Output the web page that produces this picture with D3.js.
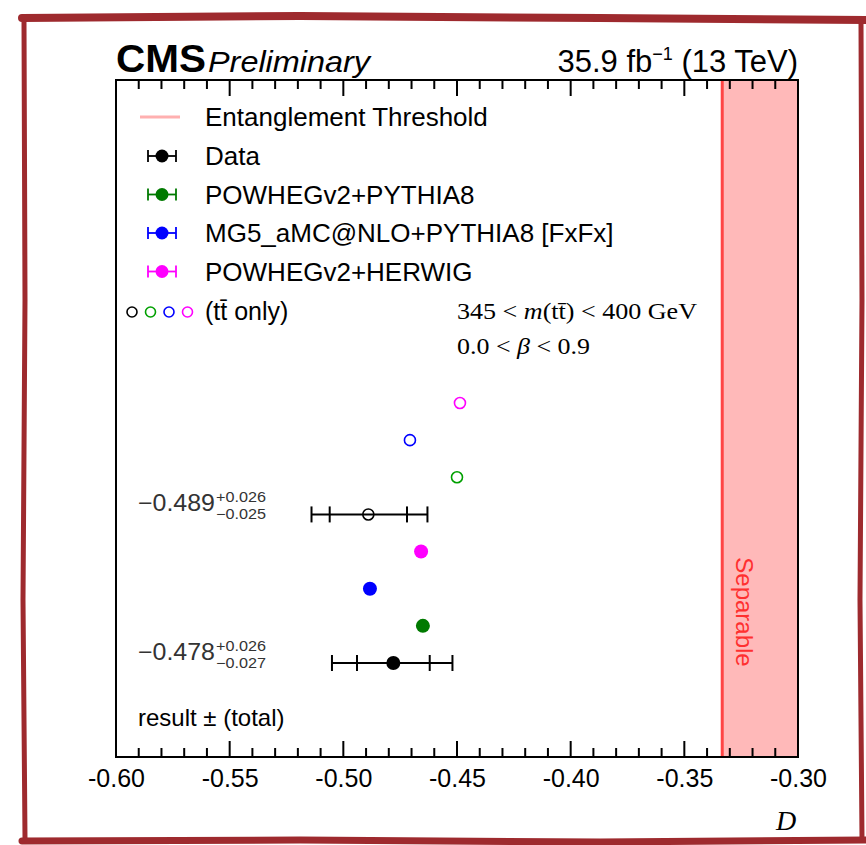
<!DOCTYPE html>
<html><head><meta charset="utf-8">
<script src="https://cdn.jsdelivr.net/npm/d3@7"></script>
<style>body{margin:0;background:#fff}svg{display:block}</style>
</head><body>
<svg id="c" width="866" height="845" xmlns="http://www.w3.org/2000/svg"></svg>
<script>
const xTicks = [-0.60, -0.55, -0.50, -0.45, -0.40, -0.35, -0.30];
const xTickLabels = ["-0.60", "-0.55", "-0.50", "-0.45", "-0.40", "-0.35", "-0.30"];
const xMinorTicks = [-0.59,-0.58,-0.57,-0.56,-0.54,-0.53,-0.52,-0.51,-0.49,-0.48,-0.47,-0.46,-0.44,-0.43,-0.42,-0.41,-0.39,-0.38,-0.37,-0.36,-0.34,-0.33,-0.32,-0.31];
const threshold = -1/3;
const legendNames = ["Data", "POWHEGv2+PYTHIA8", "MG5_aMC@NLO+PYTHIA8 [FxFx]", "POWHEGv2+HERWIG"];
const legendColors = ["#000000", "#007a00", "#0000ff", "#ff00ff"];
const openSlots = [0, 1, 2, 3];
const openValues = [-0.4487, -0.4707, -0.4500, -0.489];
const openColors = ["#ff00ff", "#0000ff", "#00a000", "#000000"];
const fullSlots = [4, 5, 6, 7];
const fullValues = [-0.4658, -0.4883, -0.4650, -0.478];
const fullColors = ["#ff00ff", "#0000ff", "#007a00", "#000000"];
const dataValues = [-0.489, -0.478];
const dataSlots = [3, 7];
const totUp = [0.026, 0.026], totDn = [0.025, 0.027];
const statUp = [0.017, 0.016], statDn = [0.017, 0.016];
const dataLabels = [["−0.489", "+0.026", "−0.025"], ["−0.478", "+0.026", "−0.027"]];

const svg = d3.select("#c");
const L = 116, R = 798, T = 80, B = 757;
const x = d3.scaleLinear().domain([-0.60, -0.30]).range([L, R]);
const ySlot = d3.scaleLinear().domain([0, 7]).range([403, 663]);
const lf = "Liberation Sans, Arial, sans-serif";
const sf = "Liberation Serif, Times New Roman, serif";

// decorative rough frame
const frame = svg.append("g").attr("fill", "none").attr("stroke", "#9e2a2e").attr("stroke-linecap", "round");
frame.append("path").attr("d", "M22,18 L300,16 L600,18 L866,20").attr("stroke-width", 8);
frame.append("path").attr("d", "M24,22 L25,300 L23,600 L25,838").attr("stroke-width", 5);
frame.append("path").attr("d", "M861,22 L862,300 L860,600 L862,838").attr("stroke-width", 5);
frame.append("path").attr("d", "M22,841 L300,840 L600,842 L866,840").attr("stroke-width", 7);

// separable band
svg.append("rect").attr("x", x(threshold)).attr("y", T).attr("width", x(-0.30) - x(threshold)).attr("height", B - T).attr("fill", "#ffb9b9");
svg.append("line").attr("x1", x(threshold)).attr("x2", x(threshold)).attr("y1", T).attr("y2", B).attr("stroke", "#ff4444").attr("stroke-width", 3);
svg.append("text").attr("transform", `translate(${x(threshold) + 14},612) rotate(90)`).attr("text-anchor", "middle")
  .attr("font-family", lf).attr("font-size", 24).attr("fill", "#ff3030").text("Separable");

svg.append("rect").attr("x", L).attr("y", T).attr("width", R - L).attr("height", B - T).attr("fill", "none").attr("stroke", "#000").attr("stroke-width", 2);

// inward ticks drawn as thin filled bars
const allTicks = xTicks.map(v => ({v, len: 16})).concat(xMinorTicks.map(v => ({v, len: 9})));
svg.append("g").selectAll("rect.bt").data(allTicks).join("rect").attr("class", "bt")
  .attr("x", d => x(d.v) - 1).attr("y", d => B - d.len).attr("width", 2).attr("height", d => d.len).attr("fill", "#000");
svg.append("g").selectAll("rect.tt").data(allTicks).join("rect").attr("class", "tt")
  .attr("x", d => x(d.v) - 1).attr("y", T).attr("width", 2).attr("height", d => d.len).attr("fill", "#000");

const axisG = svg.append("g").attr("transform", `translate(0,${B})`)
  .call(d3.axisBottom(x).tickValues(xTicks).tickFormat((d, i) => xTickLabels[i]).tickSize(0).tickPadding(12));
axisG.select(".domain").remove();
axisG.selectAll("text").attr("font-family", lf).attr("font-size", 25).attr("fill", "#000");

svg.append("text").attr("x", 786).attr("y", 830).attr("text-anchor", "middle").attr("font-family", sf)
  .attr("font-style", "italic").attr("font-size", 28).text("D");

// header
svg.append("text").attr("x", L).attr("y", 72).attr("font-family", lf).attr("font-weight", "bold").attr("font-size", 38)
  .attr("textLength", 90).attr("lengthAdjust", "spacingAndGlyphs").text("CMS");
svg.append("text").attr("x", 208).attr("y", 72).attr("font-family", lf).attr("font-style", "italic").attr("font-size", 29)
  .attr("textLength", 162).attr("lengthAdjust", "spacingAndGlyphs").text("Preliminary");
const lumi = svg.append("text").attr("x", R).attr("y", 72).attr("text-anchor", "end").attr("font-family", lf).attr("font-size", 31);
lumi.append("tspan").text("35.9 fb");
lumi.append("tspan").attr("dy", -12).attr("font-size", 18).text("−1");
lumi.append("tspan").attr("dy", 12).text(" (13 TeV)");

// legend
svg.append("line").attr("x1", 140).attr("x2", 180).attr("y1", 117).attr("y2", 117).attr("stroke", "#ffb0b0").attr("stroke-width", 3);
svg.append("text").attr("x", 205).attr("y", 126).attr("font-family", lf).attr("font-size", 26).text("Entanglement Threshold");
legendNames.forEach((n, i) => {
  const yy = 156 + i * 38.5;
  const c = legendColors[i];
  svg.append("line").attr("x1", 148).attr("x2", 176).attr("y1", yy).attr("y2", yy).attr("stroke", c).attr("stroke-width", 1.8);
  svg.append("line").attr("x1", 148).attr("x2", 148).attr("y1", yy - 6).attr("y2", yy + 6).attr("stroke", c).attr("stroke-width", 1.8);
  svg.append("line").attr("x1", 176).attr("x2", 176).attr("y1", yy - 6).attr("y2", yy + 6).attr("stroke", c).attr("stroke-width", 1.8);
  svg.append("circle").attr("cx", 162).attr("cy", yy).attr("r", 6.5).attr("fill", c);
  svg.append("text").attr("x", 205).attr("y", yy + 9).attr("font-family", lf).attr("font-size", 26).text(n);
});
const ttCols = ["#000000", "#00a000", "#0000ff", "#ff00ff"];
ttCols.forEach((c, i) => {
  svg.append("circle").attr("cx", 132 + i * 18.5).attr("cy", 312).attr("r", 5).attr("fill", "none").attr("stroke", c).attr("stroke-width", 1.6);
});
svg.append("text").attr("x", 205).attr("y", 320).attr("font-family", lf).attr("font-size", 25).text("(tt\u0304 only)");

const t1 = svg.append("text").attr("x", 457).attr("y", 319).attr("font-family", sf).attr("font-size", 24)
  .attr("textLength", 240).attr("lengthAdjust", "spacingAndGlyphs");
t1.append("tspan").text("345 < ");
t1.append("tspan").attr("font-style", "italic").text("m");
t1.append("tspan").text("(tt\u0304) < 400 GeV");
const t2 = svg.append("text").attr("x", 457).attr("y", 354).attr("font-family", sf).attr("font-size", 24)
  .attr("textLength", 133).attr("lengthAdjust", "spacingAndGlyphs");
t2.append("tspan").text("0.0 < ");
t2.append("tspan").attr("font-style", "italic").text("β");
t2.append("tspan").text(" < 0.9");

// error bars for data
dataValues.forEach((v, i) => {
  const yy = ySlot(dataSlots[i]);
  const g = svg.append("g").attr("stroke", "#000").attr("stroke-width", 2);
  g.append("line").attr("x1", x(v - totDn[i])).attr("x2", x(v + totUp[i])).attr("y1", yy).attr("y2", yy);
  [v - totDn[i], v + totUp[i], v - statDn[i], v + statUp[i]].forEach(e => {
    g.append("line").attr("x1", x(e)).attr("x2", x(e)).attr("y1", yy - 8).attr("y2", yy + 8);
  });
  const ly = yy - 3;
  svg.append("text").attr("x", 138).attr("y", ly).attr("font-family", lf).attr("font-size", 23).attr("fill", "#333")
    .attr("textLength", 77).attr("lengthAdjust", "spacingAndGlyphs").text(dataLabels[i][0]);
  svg.append("text").attr("x", 216).attr("y", ly - 9).attr("font-family", lf).attr("font-size", 14).attr("fill", "#333")
    .attr("textLength", 50).attr("lengthAdjust", "spacingAndGlyphs").text(dataLabels[i][1]);
  svg.append("text").attr("x", 216).attr("y", ly + 8).attr("font-family", lf).attr("font-size", 14).attr("fill", "#333")
    .attr("textLength", 50).attr("lengthAdjust", "spacingAndGlyphs").text(dataLabels[i][2]);
});

openValues.forEach((v, i) => {
  svg.append("circle").attr("cx", x(v)).attr("cy", ySlot(openSlots[i])).attr("r", 5.5)
    .attr("fill", "none").attr("stroke", openColors[i]).attr("stroke-width", 1.6);
});
fullValues.forEach((v, i) => {
  svg.append("circle").attr("cx", x(v)).attr("cy", ySlot(fullSlots[i])).attr("r", 7).attr("fill", fullColors[i]);
});

svg.append("text").attr("x", 138).attr("y", 726).attr("font-family", lf).attr("font-size", 24).text("result ± (total)");
</script>
</body></html>
